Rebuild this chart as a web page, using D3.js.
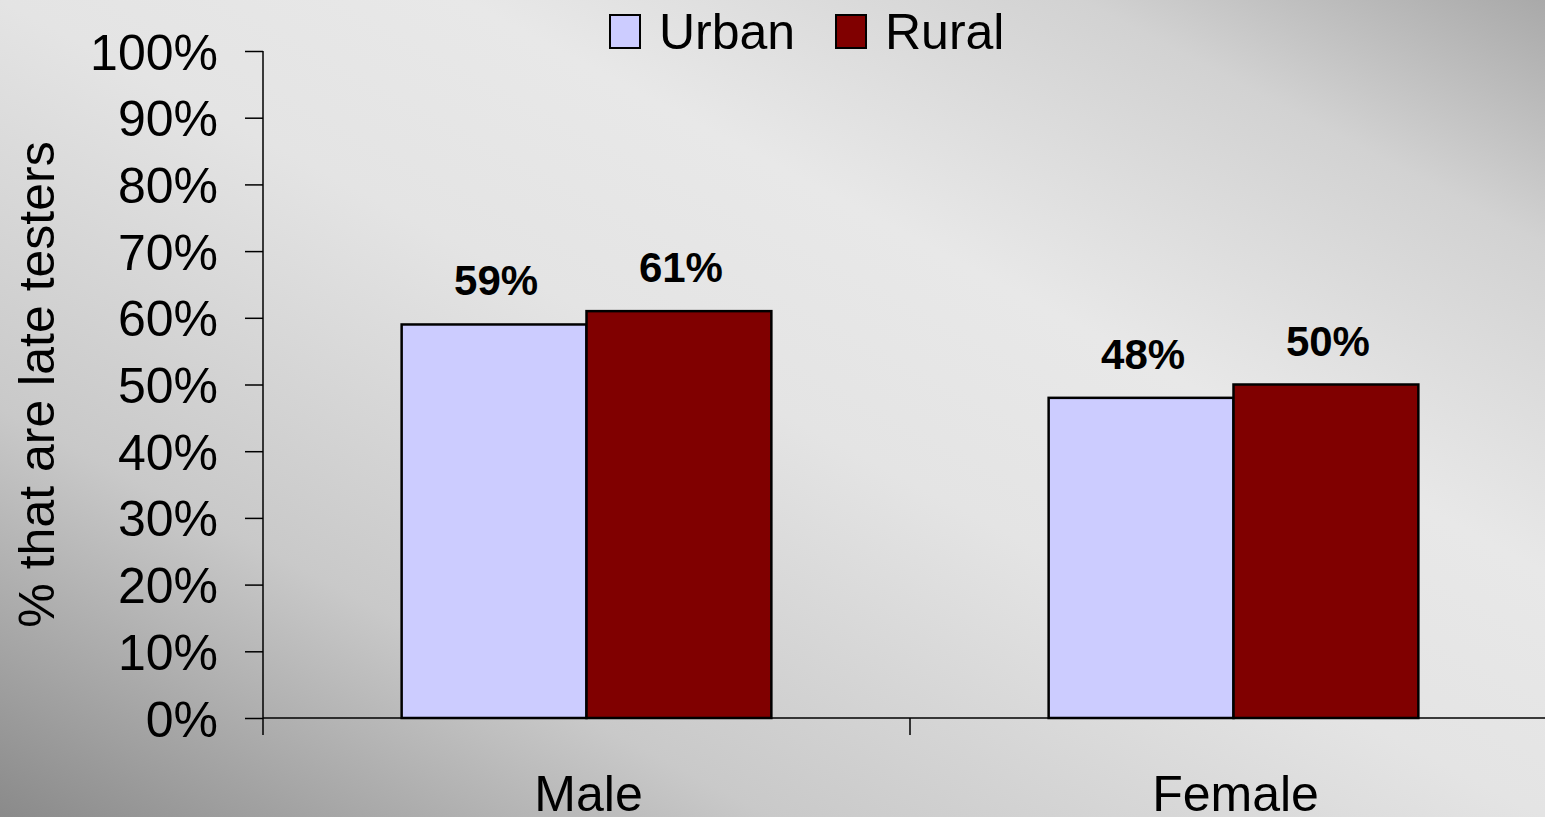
<!DOCTYPE html>
<meta charset="utf-8">
<title>late testers by sex and residence</title>
<style>
body {
  margin: 0px;
  overflow: hidden;
  font-family: "Liberation Sans", Arial, sans-serif;
}
</style>
<body>
<svg id="chart" width="1545" height="817"></svg>
</body>
<script src="https://cdn.jsdelivr.net/npm/d3@7"></script>
<script type="text/javascript">

// data
var categories = ["Male", "Female"];
var series = ["Urban", "Rural"];
var urbanValues = [0.59, 0.48];
var ruralValues = [0.61, 0.50];
var yTicks = [0, 0.1, 0.2, 0.3, 0.4, 0.5, 0.6, 0.7, 0.8, 0.9, 1.0];
var colors = ["#ccccff", "#800000"];

var width = 1545, height = 817;
var svg = d3.select("#chart");

// background: diagonal grey gradient
var defs = svg.append("defs");
var grad = defs.append("linearGradient")
    .attr("id", "bg")
    .attr("x1", 0).attr("y1", 1)
    .attr("x2", 1).attr("y2", 0);
[[0, "#8a8a8a"], [0.25, "#c9c9c9"], [0.5, "#e4e4e4"], [0.65, "#e8e8e8"],
 [0.85, "#d2d2d2"], [1, "#a9a9a9"]].forEach(function(s) {
  grad.append("stop").attr("offset", s[0]).attr("stop-color", s[1]);
});
svg.append("rect")
    .attr("width", width).attr("height", height)
    .attr("fill", "url(#bg)");

// scales - plot runs past the right edge like the original slide
var margin = {left: 263, top: 51};
var plotBottom = 718;
var x = d3.scaleBand().domain(categories).range([margin.left, 1557]);
var xs = d3.scaleBand().domain(series).range([0, x.bandwidth()]).paddingOuter(0.75);
var y = d3.scaleLinear().domain([0, 1]).range([plotBottom, margin.top]);

var rows = categories.map(function(c, i) {
  return {cat: c, values: [urbanValues[i], ruralValues[i]]};
});

// y axis
var yAxis = svg.append("g")
    .attr("transform", "translate(" + margin.left + ",0)")
    .call(d3.axisLeft(y).tickValues(yTicks).tickSize(18).tickPadding(27)
      .tickFormat(d3.format(".0%")));
yAxis.select(".domain").remove();
yAxis.selectAll(".tick line").attr("stroke", "#000").attr("stroke-width", 1.5);
yAxis.selectAll(".tick text")
    .attr("font-family", "Liberation Sans, Arial, sans-serif")
    .attr("font-size", 50)
    .attr("fill", "#000")
    .attr("dy", "0.36em");
svg.append("line")
    .attr("x1", margin.left).attr("x2", margin.left)
    .attr("y1", y(1)).attr("y2", plotBottom + 17)
    .attr("stroke", "#000").attr("stroke-width", 1.5);

// bars
var groups = svg.selectAll(".grp")
    .data(rows)
    .enter().append("g")
    .attr("class", "grp")
    .attr("transform", function(d) { return "translate(" + x(d.cat) + ",0)"; });

groups.selectAll("rect")
    .data(function(d) { return d.values.map(function(v, i) { return {s: series[i], v: v, i: i}; }); })
    .enter().append("rect")
    .attr("x", function(d) { return xs(d.s); })
    .attr("width", xs.bandwidth())
    .attr("y", function(d) { return y(d.v); })
    .attr("height", function(d) { return plotBottom - y(d.v); })
    .attr("fill", function(d) { return colors[d.i]; })
    .attr("stroke", "#000")
    .attr("stroke-width", 2.5);

groups.selectAll("text")
    .data(function(d) { return d.values.map(function(v, i) { return {s: series[i], v: v}; }); })
    .enter().append("text")
    .attr("transform", function(d) {
      return "translate(" + (xs(d.s) + xs.bandwidth() / 2 + 2) + "," + (y(d.v) - 29) + ")";
    })
    .attr("text-anchor", "middle")
    .attr("font-size", 42)
    .attr("font-weight", "bold")
    .text(function(d) { return d3.format(".0%")(d.v); });

// x axis line and category boundary ticks
svg.append("line")
    .attr("x1", margin.left).attr("x2", x.range()[1])
    .attr("y1", plotBottom).attr("y2", plotBottom)
    .attr("stroke", "#000").attr("stroke-width", 1.5);
svg.selectAll(".xtick")
    .data(categories.slice(1))
    .enter().append("line")
    .attr("class", "xtick")
    .attr("x1", function(d) { return x(d); })
    .attr("x2", function(d) { return x(d); })
    .attr("y1", plotBottom).attr("y2", plotBottom + 17)
    .attr("stroke", "#000").attr("stroke-width", 1.5);
svg.selectAll(".xlab")
    .data(categories)
    .enter().append("text")
    .attr("class", "xlab")
    .attr("x", function(d) { return x(d) + x.bandwidth() / 2 + 2; })
    .attr("y", 811)
    .attr("text-anchor", "middle")
    .attr("font-size", 50)
    .text(function(d) { return d; });

// y title
svg.append("text")
    .attr("transform", "translate(54," + (y(0.5)) + ") rotate(-90)")
    .attr("text-anchor", "middle")
    .attr("font-size", 50)
    .text("% that are late testers");

// legend
var legendX = [610, 836];
var legend = svg.selectAll(".leg")
    .data(series)
    .enter().append("g")
    .attr("class", "leg")
    .attr("transform", function(d, i) { return "translate(" + legendX[i] + ",15)"; });
legend.append("rect")
    .attr("width", 30).attr("height", 33)
    .attr("fill", function(d, i) { return colors[i]; })
    .attr("stroke", "#000").attr("stroke-width", 2);
legend.append("text")
    .attr("x", 49).attr("y", 34)
    .attr("font-size", 50)
    .text(function(d) { return d; });

</script>
